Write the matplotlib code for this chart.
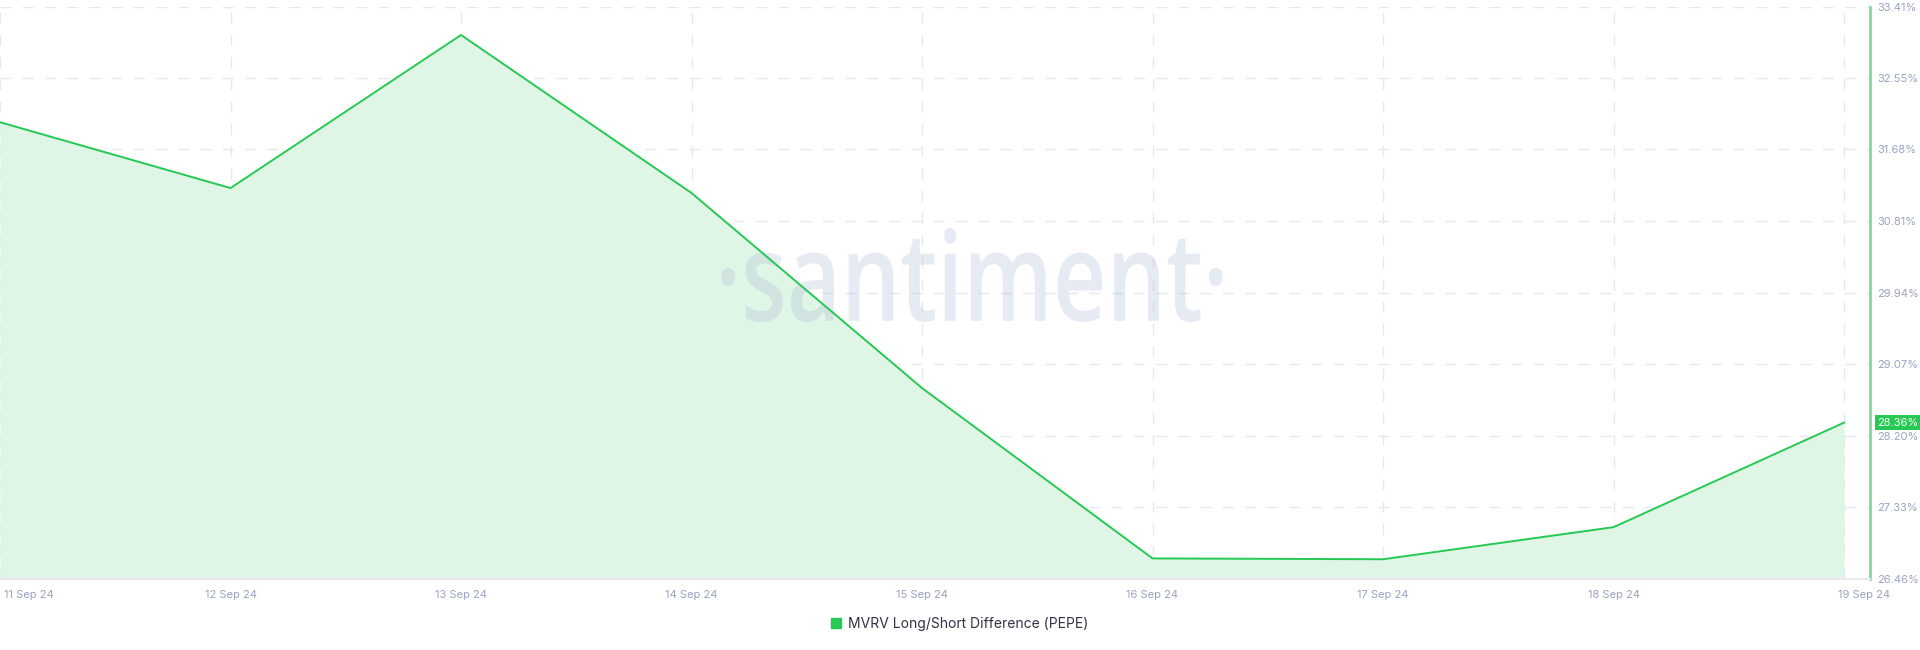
import pandas as pd
import matplotlib
matplotlib.use("Agg")
import matplotlib.pyplot as plt
import matplotlib.transforms as mtransforms
from matplotlib.patches import Patch, PathPatch
from matplotlib.textpath import TextPath
from matplotlib.font_manager import FontProperties

# values
dates = pd.to_datetime(["2024-09-11", "2024-09-12", "2024-09-13", "2024-09-14", "2024-09-15",
                        "2024-09-16", "2024-09-17", "2024-09-18", "2024-09-19"])
mvrv = [32.01, 31.21, 33.07, 31.15, 28.78, 26.71, 26.70, 27.09, 28.36]
ytick_vals = [26.46, 27.33, 28.20, 29.07, 29.94, 30.81, 31.68, 32.55, 33.41]
ytick_labels = ["26.46%", "27.33%", "28.20%", "29.07%", "29.94%", "30.81%", "31.68%", "32.55%", "33.41%"]
xtick_labels = [d.strftime("%-d %b %y") for d in dates]
series_name = "MVRV Long/Short Difference (PEPE)"

line_col = "#26c953"
fill_col = "#dff5e5"
grid_col = "#e6e8ef"
text_col = "#9aa3c2"

plt.rcParams['font.family'] = ['Inter', 'DejaVu Sans']

fig = plt.figure(figsize=(19.2, 6.5), dpi=100)
ax = fig.add_axes([0, 1 - 579 / 650, 1870 / 1920, (579 - 7) / 650])

ax.fill_between(dates, mvrv, ytick_vals[0], color=fill_col, lw=0, zorder=2)
ax.plot(dates, mvrv, color=line_col, lw=1.4, zorder=4)

# watermark: narrow text, squeezed to the box it takes in the original (pixels)
tp = TextPath((0, 0), "\u00b7santiment\u00b7", size=1,
              prop=FontProperties(family="Open Sans", weight="semibold"))
bb = tp.get_extents()
wm_w, wm_h = 501, 94
wm_cx, wm_cy = 972, 650 - 275
wm_tr = (mtransforms.Affine2D()
         .translate(-(bb.x0 + bb.x1) / 2, -(bb.y0 + bb.y1) / 2)
         .scale(wm_w / bb.width / 100, wm_h / bb.height / 100)
         .translate(wm_cx / 100, wm_cy / 100)) + fig.dpi_scale_trans
ax.add_patch(PathPatch(tp, transform=wm_tr, fc="#b9c3dc", ec="none", alpha=0.35, zorder=3))

ax.set_xlim(dates[0], dates[-1] + pd.Timedelta(hours=2.7))
ax.set_ylim(ytick_vals[0], ytick_vals[-1])

ax.set_yticks(ytick_vals)
ax.set_yticklabels(ytick_labels)
ax.yaxis.tick_right()
ax.tick_params(axis="y", length=0, pad=5, labelsize=8, labelcolor=text_col)

ax.set_xticks(dates)
ax.set_xticklabels(xtick_labels)
ax.tick_params(axis="x", direction="in", length=5, width=0.8, color="#dcdfe8",
               pad=8, labelsize=8, labelcolor=text_col)

labels = ax.get_xticklabels()
labels[0].set_ha("left")
labels[0].set_transform(labels[0].get_transform() + mtransforms.ScaledTranslation(4 / 100, 0, fig.dpi_scale_trans))
labels[-1].set_transform(labels[-1].get_transform() + mtransforms.ScaledTranslation(20 / 100, 0, fig.dpi_scale_trans))

ax.grid(True, color=grid_col, lw=1, linestyle=(0, (8, 8)), zorder=0)
ax.set_axisbelow(True)

for s in ["top", "left"]:
    ax.spines[s].set_visible(False)
ax.spines["right"].set_color("#7fdc9a")
ax.spines["right"].set_linewidth(2)
ax.spines["bottom"].set_color("#e8eaf0")
ax.spines["bottom"].set_linewidth(1.5)

# latest value marker on the axis
ax.annotate(f"{mvrv[-1]:.2f}%", xy=(1, mvrv[-1]), xycoords=("axes fraction", "data"),
            xytext=(5, 0), textcoords="offset points", ha="left", va="center",
            fontsize=8, color="white", annotation_clip=False,
            bbox=dict(boxstyle="square,pad=0.2", fc=line_col, ec="none"))

fig.legend(handles=[Patch(color=line_col, label=series_name)], loc="center",
           bbox_to_anchor=(0.5, 1 - 624 / 650), frameon=False, fontsize=10,
           handlelength=0.7, handleheight=0.7, handletextpad=0.5, labelcolor="#2f3442")

fig.savefig("out.png", dpi=100)
